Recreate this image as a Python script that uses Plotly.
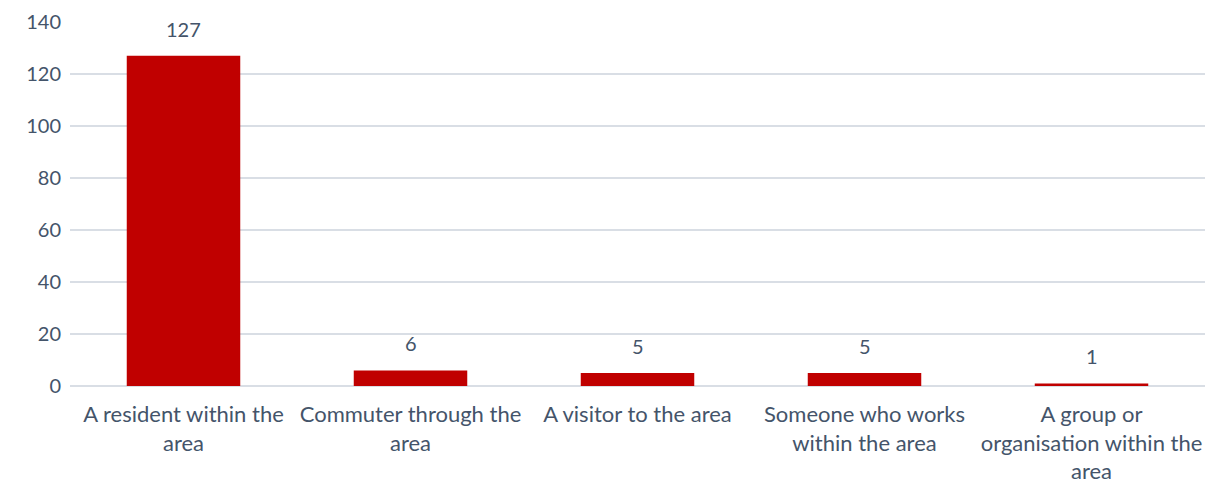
import plotly.graph_objects as go

categories = [
    "A resident within the<br>area",
    "Commuter through the<br>area",
    "A visitor to the area",
    "Someone who works<br>within the area",
    "A group or<br>organisation within the<br>area",
]
values = [127, 6, 5, 5, 1]
y_ticks = [0, 20, 40, 60, 80, 100, 120, 140]

TEXT = "#44546A"
FONT = "Lato"

fig = go.Figure()
fig.add_trace(go.Bar(
    x=categories, y=values,
    marker=dict(color="#C00000", line=dict(width=0)),
    width=0.5,
))
for c, v in zip(categories, values):
    fig.add_annotation(x=c, y=v, text=str(v), showarrow=False,
                       yanchor="bottom", yshift=13,
                       font=dict(family=FONT, size=20, color=TEXT))

fig.update_layout(
    width=1207, height=478,
    margin=dict(l=62, r=10, t=14, b=100),
    plot_bgcolor="white", paper_bgcolor="white",
    showlegend=False,
    font=dict(family=FONT, size=20, color=TEXT),
)
fig.update_xaxes(showgrid=False, showline=False, ticks="", automargin=False,
                 ticklabelstandoff=13, tickfont=dict(size=22, color=TEXT))
fig.update_yaxes(range=[0, 140], tickvals=y_ticks, showgrid=True, gridcolor="#D9DEE5", gridwidth=1.5,
                 zeroline=True, zerolinecolor="#D9DEE5", zerolinewidth=1.5, automargin=False,
                 ticks="", ticklabelstandoff=8, tickfont=dict(size=20, color=TEXT))
fig.write_html("out.html")
